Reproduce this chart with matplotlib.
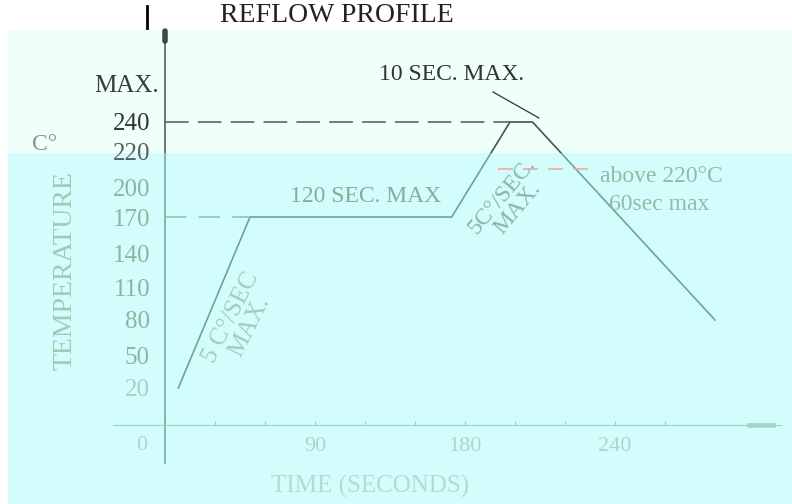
import numpy as np
import matplotlib.pyplot as plt
from matplotlib.patches import Rectangle
from matplotlib.lines import Line2D
from matplotlib.transforms import ScaledTranslation

#**************** data *****************#
profile_time = [8, 51, 172, 198, 207, 280]
profile_temp = [20, 170, 170, 240, 240, 80]

soak_guide_time = [0, 51]
soak_guide_temp = [170, 170]
peak_guide_time = [0, 198]
peak_guide_temp = [240, 240]
liquidus_time = [193, 230]
liquidus_temp = [220, 220]

y_ticks = [20, 50, 80, 110, 140, 170, 200, 220, 240]
y_labels = [str(v) for v in y_ticks]
x_major = [90, 180, 240]
x_labels = ['90', '180', '240']
x_minor = [0, 30, 60, 120, 150, 200, 220, 260]

#**************** schematic (non linear) axes *****************#
W, H = 792, 504
t_anchor = [-300, 0, 90, 180, 240, 600]
tx_anchor = [-335, 165, 315, 465, 615, 1515]
T_anchor = [-100, 0, 20, 50, 80, 110, 140, 170, 200, 220, 240, 400]
Ty_anchor = [610, 425, 388, 355, 320, 287, 253, 217, 188, 169, 122, -254]

def fx(t):
    return np.interp(t, t_anchor, tx_anchor)

def ix(p):
    return np.interp(p, tx_anchor, t_anchor)

def fy(T):
    return H - np.interp(T, T_anchor, Ty_anchor)

def iy(h):
    return np.interp(H - np.asarray(h), Ty_anchor[::-1], T_anchor[::-1])

plt.rcParams['font.family'] = ['Liberation Serif', 'DejaVu Serif']

fig = plt.figure(figsize=(W / 100, H / 100), dpi=100, facecolor='white')
SPLIT = 153  # pixel row where the background changes
fig.add_artist(Rectangle((8 / W, 1 - SPLIT / H), 1 - 8 / W, (SPLIT - 30) / H,
                         transform=fig.transFigure, facecolor='#effffa',
                         edgecolor='none', zorder=-2))
fig.add_artist(Rectangle((8 / W, 0), 1 - 8 / W, 1 - SPLIT / H,
                         transform=fig.transFigure, facecolor='#d3fdfc',
                         edgecolor='none', zorder=-2))
top_clip = Rectangle((0, 1 - SPLIT / H), 1, SPLIT / H, transform=fig.transFigure)
bot_clip = Rectangle((0, 0), 1, 1 - SPLIT / H, transform=fig.transFigure)

ax = fig.add_axes([0, 0, 1, 1])
ax.set_facecolor('none')
ax.set_xscale('function', functions=(fx, ix))
ax.set_yscale('function', functions=(fy, iy))

# profile, dark in the upper band and faded teal in the lower one
for col, clip in [('#4a504d', top_clip), ('#68a696', bot_clip)]:
    ln, = ax.plot(profile_time, profile_temp, color=col, lw=1.2)
    ln.set_clip_path(clip)
    vl = ax.axvline(0, ymin=(H - 463) / H, ymax=(H - 32) / H, color=col, lw=1.1)
    vl.set_clip_path(clip)
ax.axvline(0, ymin=(H - 41) / H, ymax=(H - 31) / H, color='#3d4a45', lw=4,
           solid_capstyle='round')

ax.plot(peak_guide_time, peak_guide_temp, color='#555555', lw=1.1, dashes=(15.5, 6))
ax.plot(soak_guide_time, soak_guide_temp, color='#86c2b2', lw=1.1, dashes=(14, 8))
ax.plot(liquidus_time, liquidus_temp, color='#f0a8a8', lw=1.2, dashes=(9, 6))

# axes
for s in ['top', 'right']:
    ax.spines[s].set_visible(False)
ax.spines['left'].set_position(('data', 0))
ax.spines['left'].set_visible(False)
ax.spines['bottom'].set_position(('data', 0))
ax.spines['bottom'].set_bounds(ix(113), ix(781))
ax.spines['bottom'].set_color('#9ad2c2')
ax.plot([ix(749), ix(773)], [0, 0], color='#a4dccc', lw=3.5)

ax.set_yticks(y_ticks, y_labels)
ax.tick_params(axis='y', length=0, pad=10.8, labelsize=18)
ax.set_xticks(x_major, x_labels)
ax.set_xticks(x_minor, minor=True)
ax.tick_params(axis='x', which='both', direction='in', length=3, width=0.8,
               color='#9fd2c3', pad=8.6, labelsize=16, labelcolor='#b0d6c8')

for T, lbl in zip(y_ticks, ax.get_yticklabels()):
    if T >= 240:
        lbl.set_color('#333333')
    elif T == 220:
        lbl.set_color('#5e5e5e')
        lbl.set_transform(lbl.get_transform() +
                          ScaledTranslation(0, 0.17, fig.dpi_scale_trans))
    elif T <= 20:
        lbl.set_color('#a9d0c2')
    else:
        lbl.set_color('#8fb3a2')

ax.set_xlim(ix(0), ix(W))
ax.set_ylim(iy(0), iy(H))

#**************** labels *****************#
def put(x, y, s, **kw):
    fig.text(x / W, 1 - y / H, s, ha='center', va='center', **kw)

fig.text(220 / W, 1 - 3 / H, 'REFLOW PROFILE', ha='left', va='top', size=20,
         color='#222222')
fig.add_artist(Line2D([147 / W, 147 / W], [1 - 6 / H, 1 - 28 / H],
                      transform=fig.transFigure, color='black', lw=2))

put(452, 74, '10 SEC. MAX.', size=17, color='#333333')
fig.add_artist(Line2D([493 / W, 539 / W], [1 - 92 / H, 1 - 118 / H],
                      transform=fig.transFigure, color='#333333', lw=0.9))
put(127, 86, 'MAX.', size=18, color='#3a3a3a')
put(45, 145, 'C°', size=17, color='#8a928e')
put(366, 197, '120 SEC. MAX', size=17, color='#8aab9b')
put(661, 176, 'above 220°C', size=17, color='#95b8a8')
put(659, 205, '60sec max', size=17, color='#95b8a8')
put(240, 322, '5 C°/SEC\nMAX.', size=18, rotation=63, color='#a6cbbb',
    linespacing=0.9)
put(510, 202, '5C°/SEC.\nMAX.', size=17, rotation=50, color='#88b6a6',
    linespacing=0.9)
put(370, 486, 'TIME (SECONDS)', size=18, color='#b4dcce')
put(65, 270, 'TEMPERATURE', size=20, rotation=90, color='#a3c8b8')
put(142, 445, '0', size=16, color='#b0d6c8')

fig.savefig('out.png', dpi=100)
